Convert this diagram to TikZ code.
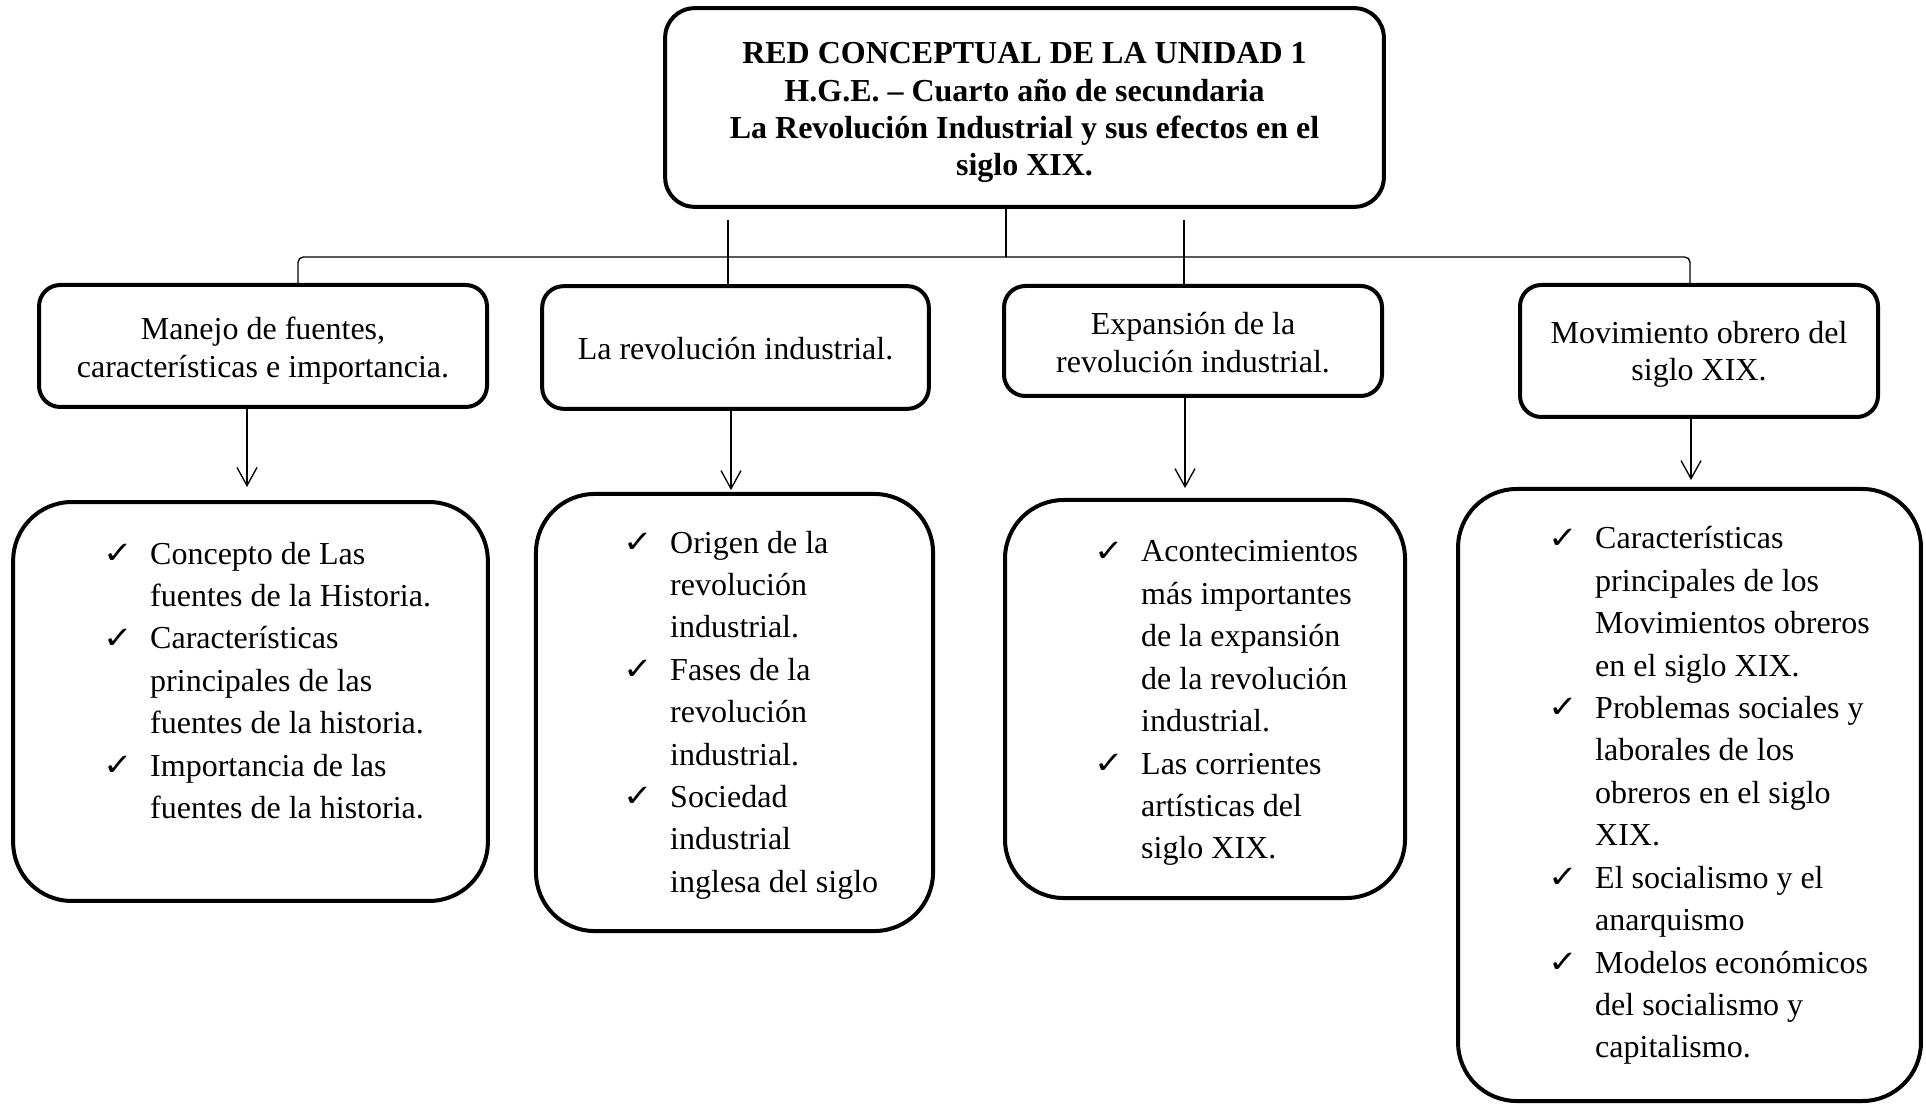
\documentclass[tikz,border=0pt]{standalone}
\usepackage{fontspec}
\usepackage{graphicx}
\setmainfont{Liberation Serif}
\newfontfamily\chkfont{DejaVu Sans}
\usepackage{tikz}
\usetikzlibrary{arrows.meta}

\newcommand{\chk}{\raisebox{0.3pt}{\scalebox{1.15}[1]{\chkfont\bfseries\fontsize{11.5}{12}\selectfont ✓}}}

\begin{document}
\begin{tikzpicture}[x=0.375pt,y=-0.375pt,
  titlebox/.style={draw,line width=1.5pt,rounded corners=11pt,inner sep=0pt,
    minimum width=269.5pt,minimum height=74.5pt,align=center,
    font=\bfseries\fontsize{12}{14}\selectfont},
  topicbox/.style={draw,line width=1.5pt,rounded corners=8pt,inner sep=0pt,
    align=center,font=\fontsize{12}{14}\selectfont},
  listbox/.style={draw,line width=1.5pt,rounded corners=22pt},
  listtext/.style={anchor=base west,inner sep=0pt,font=\fontsize{12}{15.9}\selectfont},
  link/.style={line width=0.5pt},
  >={Straight Barb[length=6.8pt,width=7.5pt]}]
\useasboundingbox (0,0) rectangle (1926,1104);

\node [titlebox] (t) at (1024.5,107.5) {\rule{0pt}{12pt}RED CONCEPTUAL DE LA UNIDAD 1\\
  H.G.E. – Cuarto año de secundaria\\
  La Revolución Industrial y sus efectos en el\\
  siglo XIX.};

\node [topicbox,minimum width=168pt,minimum height=45.75pt] (b1) at (263,346)
  {\rule{0pt}{12pt}Manejo de fuentes,\\características e importancia.};
\node [topicbox,minimum width=145pt,minimum height=46pt] (b2) at (735.5,347.5)
  {\rule{0pt}{9pt}La revolución industrial.};
\node [topicbox,minimum width=141.75pt,minimum height=41.25pt] (b3) at (1193,341)
  {\rule{0pt}{9.6pt}Expansión de la\\revolución industrial.};
\node [topicbox,minimum width=134.25pt,minimum height=49.5pt] (b4) at (1699,351)
  {\rule{0pt}{11pt}Movimiento obrero del\\siglo XIX.};

\node [listbox,minimum width=178pt,minimum height=149.6pt] (l1) at (250.5,701.5) {};
\node [listbox,minimum width=148.9pt,minimum height=163.9pt] (l2) at (734.5,712.5) {};
\node [listbox,minimum width=150pt,minimum height=149.25pt] (l3) at (1205,699) {};
\node [listbox,minimum width=173.6pt,minimum height=229.5pt] (l4) at (1689.5,795) {};

\node [listtext] (li1) at (103,564) {\begin{tabular}[t]{@{}p{17.5pt}@{}l@{}}
  \chk & Concepto de Las\\ & fuentes de la Historia.\\
  \chk & Características\\ & principales de las\\ & fuentes de la historia.\\
  \chk & Importancia de las\\ & fuentes de la historia.
  \end{tabular}};
\node [listtext] (li2) at (623,553) {\begin{tabular}[t]{@{}p{17.5pt}@{}l@{}}
  \chk & Origen de la\\ & revolución\\ & industrial.\\
  \chk & Fases de la\\ & revolución\\ & industrial.\\
  \chk & Sociedad\\ & industrial\\ & inglesa del siglo
  \end{tabular}};
\node [listtext] (li3) at (1094,562) {\begin{tabular}[t]{@{}p{17.5pt}@{}l@{}}
  \chk & Acontecimientos\\ & más importantes\\ & de la expansión\\
    & de la revolución\\ & industrial.\\
  \chk & Las corrientes\\ & artísticas del\\ & siglo XIX.
  \end{tabular}};
\node [listtext] (li4) at (1548,549) {\begin{tabular}[t]{@{}p{17.5pt}@{}l@{}}
  \chk & Características\\ & principales de los\\ & Movimientos obreros\\
    & en el siglo XIX.\\
  \chk & Problemas sociales y\\ & laborales de los\\ & obreros en el siglo\\ & XIX.\\
  \chk & El socialismo y el\\ & anarquismo\\
  \chk & Modelos económicos\\ & del socialismo y\\ & capitalismo.
  \end{tabular}};

\coordinate (bm) at (1006,257);
\coordinate (bl) at (298,257);
\coordinate (br) at (1690,257);
\coordinate (s2) at (728,220);
\coordinate (s3) at (1184,220);

\draw [link] (bm |- t.south) -- (bm);
\draw [link,rounded corners=2pt] (bl |- b1.north) -- (bl) -- (br) -- (br |- b4.north);
\draw [link] (s2) -- (s2 |- b2.north);
\draw [link] (s3) -- (s3 |- b3.north);

\foreach \b/\l/\x/\g in {b1/l1/247/4.9pt,b2/l2/731/0.7pt,b3/l3/1185/3.7pt,b4/l4/1691/2.6pt}
\draw [link,->,shorten >=\g] (\x,0 |- \b.south) -- (\x,0 |- \l.north);
\end{tikzpicture}
\end{document}
